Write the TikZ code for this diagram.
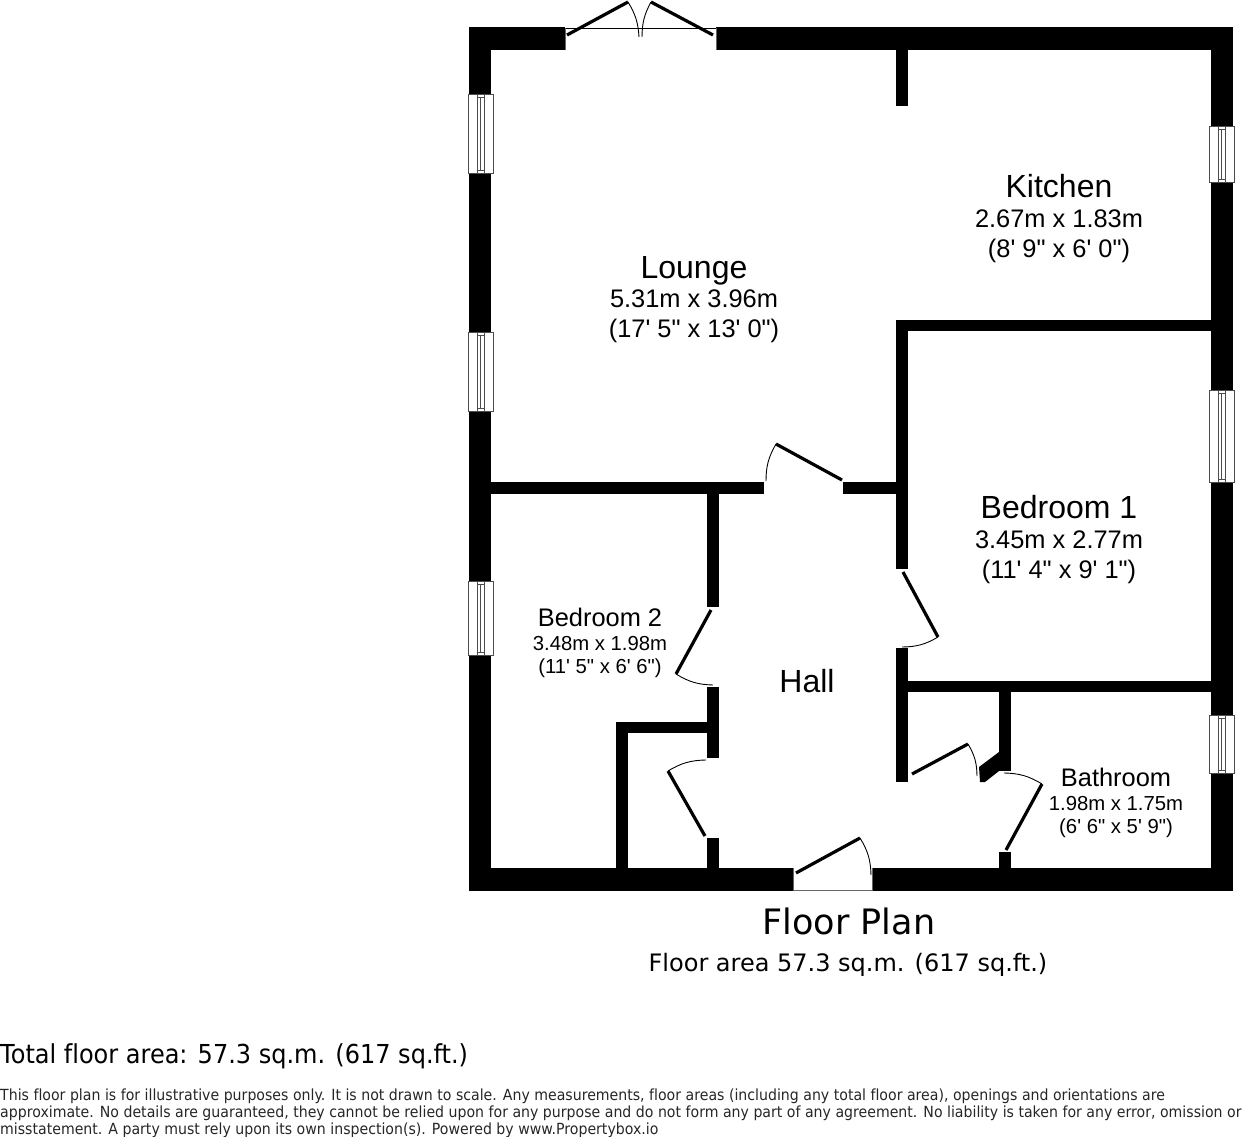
\documentclass[tikz,border=0pt]{standalone}
\usepackage{fontspec}
\newfontfamily\roomfont{Liberation Sans}
\newfontfamily\planfont[Ligatures=NoCommon]{DejaVu Sans}
\newfontfamily\notefont[FakeStretch=0.92,Ligatures=NoCommon]{DejaVu Sans}
\tikzset{
  wall/.style={fill=black},
  leaf/.style={line width=3.2pt},
  swing/.style={line width=0.9pt},
  pane/.style={draw=black!70,line width=0.6pt,fill=white},
  bigroom/.style={align=center,inner sep=0pt,font=\roomfont\fontsize{25.4}{29.7}\selectfont},
  smallroom/.style={align=center,inner sep=0pt,font=\roomfont\fontsize{20.3}{23.5}\selectfont},
  plantext/.style={anchor=base,inner sep=0pt},
  notetext/.style={anchor=base west,inner sep=0pt}
}
\begin{document}
\begin{tikzpicture}[x=1pt,y=-1pt]
  \useasboundingbox (0,0) rectangle (1242,1137);
  % outer walls
  \fill [wall] (469,27) rectangle (565,50);
  \fill [wall] (716,27) rectangle (1233,50);
  \fill [wall] (469,27) rectangle (491,891);
  \fill [wall] (1211,27) rectangle (1233,891);
  \fill [wall] (469,868) rectangle (793,891);
  \fill [wall] (872,868) rectangle (1233,891);
  % inner walls
  \fill [wall] (896,50) rectangle (908,106);
  \fill [wall] (896,320) rectangle (1211,331);
  \fill [wall] (896,320) rectangle (908,569);
  \fill [wall] (491,482) rectangle (764,494);
  \fill [wall] (843,482) rectangle (896,494);
  \fill [wall] (707,494) rectangle (719,607);
  \fill [wall] (707,687) rectangle (719,758);
  \fill [wall] (707,838) rectangle (719,868);
  \fill [wall] (616,722) rectangle (707,733);
  \fill [wall] (616,722) rectangle (628,868);
  \fill [wall] (896,648) rectangle (908,782);
  \fill [wall] (908,681) rectangle (1211,692);
  \fill [wall] (999,692) rectangle (1011,771);
  \fill [wall] (999,752) -- (979,767) -- (980,782) -- (985,782) -- (999,771) -- cycle;
  \fill [wall] (999,852) rectangle (1011,868);
  % openings
  \draw [black,line width=0.9pt] (565,28) -- (716,28);
  \draw [black!60,line width=0.6pt] (565,28) -- (565,50);
  \draw [black!60,line width=0.6pt] (716,28) -- (716,50);
  \draw [black!60,line width=0.6pt] (793,868) -- (793,890) -- (872,890) -- (872,868);
  % doors
  \draw [leaf] (567,35) -- (628,2);
  \draw [swing] (628,2) to [bend left=14] (639,37);
  \draw [leaf] (713,35) -- (651,2);
  \draw [swing] (651,2) to [bend right=14] (642,37);
  \draw [leaf] (842,480) -- (776,444);
  \draw [swing] (776,444) to [bend right=15] (766,481);
  \draw [leaf] (903,572) -- (938,637);
  \draw [swing] (938,637) to [bend left=15] (902,647);
  \draw [leaf] (711,610) -- (676,674);
  \draw [swing] (676,674) to [bend right=15] (713,685);
  \draw [leaf] (705,836) -- (668,771);
  \draw [swing] (668,771) to [bend left=15] (706,760);
  \draw [leaf] (796,873) -- (860,838);
  \draw [swing] (860,838) to [bend left=15] (871,875);
  \draw [leaf] (912,774) -- (968,744);
  \draw [swing] (968,744) to [bend left=15] (977,776);
  \draw [leaf] (1006,850) -- (1042,784);
  \draw [swing] (1042,784) to [bend right=15] (1004,773);
  % windows
  \draw [pane] (468,94) rectangle (493,173);
  \draw [pane] (477,94) rectangle (484,173);
  \draw [pane] (477,97) rectangle (484,170);
  \draw [pane] (480.5,97) -- (480.5,170);
  \draw [pane] (468,332) rectangle (493,411);
  \draw [pane] (477,332) rectangle (484,411);
  \draw [pane] (477,335) rectangle (484,408);
  \draw [pane] (480.5,335) -- (480.5,408);
  \draw [pane] (468,581) rectangle (493,655);
  \draw [pane] (477,581) rectangle (484,655);
  \draw [pane] (477,584) rectangle (484,652);
  \draw [pane] (480.5,584) -- (480.5,652);
  \draw [pane] (1209,126) rectangle (1234,182);
  \draw [pane] (1218,126) rectangle (1225,182);
  \draw [pane] (1218,129) rectangle (1225,179);
  \draw [pane] (1221.5,129) -- (1221.5,179);
  \draw [pane] (1209,390) rectangle (1234,482);
  \draw [pane] (1218,390) rectangle (1225,482);
  \draw [pane] (1218,393) rectangle (1225,479);
  \draw [pane] (1221.5,393) -- (1221.5,479);
  \draw [pane] (1209,715) rectangle (1234,773);
  \draw [pane] (1218,715) rectangle (1225,773);
  \draw [pane] (1218,718) rectangle (1225,770);
  \draw [pane] (1221.5,718) -- (1221.5,770);
  % room labels
  \node (lounge) [bigroom] at (694,299.5) {{\fontsize{32}{35.5}\selectfont Lounge}\\5.31m x 3.96m\\(17' 5" x 13' 0")};
  \node (kitchen) [bigroom] at (1059,218.5) {{\fontsize{32}{35.5}\selectfont Kitchen}\\2.67m x 1.83m\\(8' 9" x 6' 0")};
  \node (bedroomone) [bigroom] at (1059,539.5) {{\fontsize{32}{35.5}\selectfont Bedroom 1}\\3.45m x 2.77m\\(11' 4" x 9' 1")};
  \node (bedroomtwo) [smallroom] at (600,643) {{\fontsize{25.4}{28}\selectfont Bedroom 2}\\3.48m x 1.98m\\(11' 5" x 6' 6")};
  \node (hall) [inner sep=0pt,font=\roomfont\fontsize{32}{35}\selectfont] at (807,681) {Hall};
  \node (bathroom) [smallroom] at (1116,803) {{\fontsize{25.4}{28}\selectfont Bathroom}\\1.98m x 1.75m\\(6' 6" x 5' 9")};
  % captions
  \node (plantitle) [plantext,font=\planfont\fontsize{35}{40}\selectfont] at (849,934) {Floor Plan};
  \node (planarea) [plantext,font=\planfont\fontsize{24}{28}\selectfont] at (848,971) {Floor area 57.3 sq.m. (617 sq.ft.)};
  \node (totalarea) [notetext,font=\notefont\fontsize{26.1}{30}\selectfont] at (0,1063) {Total floor area: 57.3 sq.m. (617 sq.ft.)};
  \node (disclaimer) [notetext,anchor=north west,align=left,text=black!85,font=\notefont\fontsize{15.35}{16.6}\selectfont] at (0,1089) {This floor plan is for illustrative purposes only. It is not drawn to scale. Any measurements, floor areas (including any total floor area), openings and orientations are\\approximate. No details are guaranteed, they cannot be relied upon for any purpose and do not form any part of any agreement. No liability is taken for any error, omission or\\misstatement. A party must rely upon its own inspection(s). Powered by www.Propertybox.io};
\end{tikzpicture}
\end{document}
